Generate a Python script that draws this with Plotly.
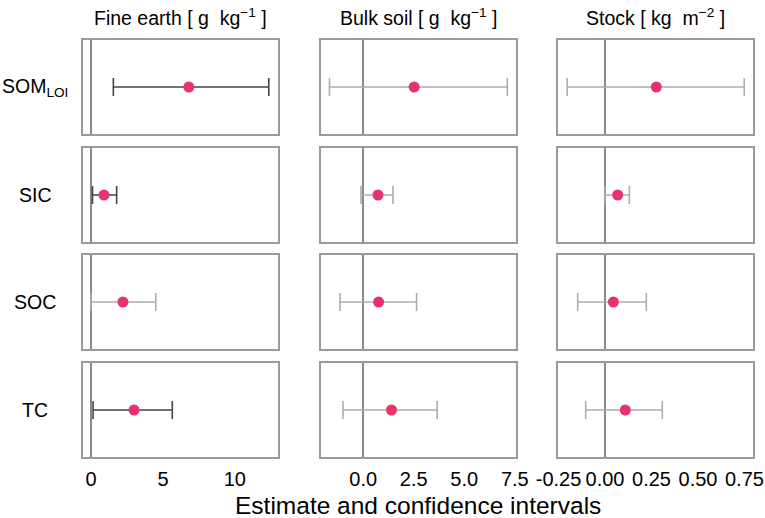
import plotly.graph_objects as go
from plotly.subplots import make_subplots

# --- DATA ---
rows = ["SOM<sub>LOI</sub>", "SIC", "SOC", "TC"]
columns = [
    "Fine earth [ g  kg<sup>\u22121</sup> ]",
    "Bulk soil [ g  kg<sup>\u22121</sup> ]",
    "Stock [ kg  m<sup>\u22122</sup> ]",
]

# estimates and confidence bounds per column, one value per row
fine_est = [6.8, 0.9, 2.22, 2.99]
fine_lo = [1.55, 0.1, -0.02, 0.14]
fine_hi = [12.36, 1.78, 4.5, 5.65]

bulk_est = [2.52, 0.73, 0.76, 1.4]
bulk_lo = [-1.67, -0.11, -1.15, -1.0]
bulk_hi = [7.13, 1.47, 2.64, 3.66]

stock_est = [0.276, 0.068, 0.045, 0.109]
stock_lo = [-0.204, -0.002, -0.147, -0.104]
stock_hi = [0.749, 0.131, 0.222, 0.308]

# tick labels per column
fine_ticks = [0, 5, 10]
fine_ticktext = ["0", "5", "10"]
bulk_ticks = [0, 2.5, 5, 7.5]
bulk_ticktext = ["0.0", "2.5", "5.0", "7.5"]
stock_ticks = [-0.25, 0, 0.25, 0.5, 0.75]
stock_ticktext = ["-0.25", "0.00", "0.25", "0.50", "0.75"]

x_ranges = [[-0.56, 13.0], [-2.09, 7.56], [-0.253, 0.796]]

# --- STYLE ---
W, H = 765, 518
FONT = "Arial, Liberation Sans, sans-serif"
POINT = "#E8336A"
DARK = "#444444"
LIGHT = "#ADADAD"
BORDER = "#9A9A9A"
ZERO = "#8A8A8A"

col_px = [(83, 278), (321, 516), (558, 753)]
row_px = [(40, 134), (148, 242), (255, 349), (363, 457)]


def main():
    est = [fine_est, bulk_est, stock_est]
    lo = [fine_lo, bulk_lo, stock_lo]
    hi = [fine_hi, bulk_hi, stock_hi]
    ticks = [(fine_ticks, fine_ticktext), (bulk_ticks, bulk_ticktext),
             (stock_ticks, stock_ticktext)]

    fig = make_subplots(rows=4, cols=3)

    for c in range(3):
        for r in range(4):
            e, l, h = est[c][r], lo[c][r], hi[c][r]
            # CI that stays clear of zero is drawn dark
            bar_col = DARK if l > 0 else LIGHT
            fig.add_trace(go.Scatter(
                x=[e], y=[0], mode="markers",
                marker=dict(size=11, color=POINT),
                error_x=dict(type="data", symmetric=False,
                             array=[h - e], arrayminus=[e - l],
                             color=bar_col, thickness=1.6, width=9),
                showlegend=False, hoverinfo="x",
            ), row=r + 1, col=c + 1)

            idx = r * 3 + c + 1
            xname = "xaxis" if idx == 1 else f"xaxis{idx}"
            yname = "yaxis" if idx == 1 else f"yaxis{idx}"
            x0, x1 = col_px[c]
            y0, y1 = row_px[r]
            tv, tt = ticks[c]
            fig.layout[xname].update(
                domain=[x0 / W, x1 / W], range=x_ranges[c],
                tickvals=tv, ticktext=tt, showticklabels=(r == 3),
                ticks="outside" if r == 3 else "", ticklen=3,
                tickcolor="rgba(0,0,0,0)", automargin=False,
                tickfont=dict(family=FONT, size=20, color="#000000"),
                showgrid=False, zeroline=True, zerolinecolor=ZERO,
                zerolinewidth=1.6, showline=True, mirror=True,
                linecolor=BORDER, linewidth=1.6, fixedrange=True,
            )
            fig.layout[yname].update(
                domain=[1 - y1 / H, 1 - y0 / H], range=[-1, 1],
                showticklabels=False, showgrid=False, zeroline=False,
                showline=True, mirror=True, linecolor=BORDER,
                linewidth=1.6, ticks="", fixedrange=True, automargin=False,
            )

    annotations = []
    for c, title in enumerate(columns):
        x0, x1 = col_px[c]
        annotations.append(dict(
            text=title, x=(x0 + x1) / 2 / W, y=1 - 17 / H,
            xref="paper", yref="paper", showarrow=False,
            xanchor="center", yanchor="middle",
            font=dict(family=FONT, size=19.5, color="#000000"),
        ))
    for r, label in enumerate(rows):
        y0, y1 = row_px[r]
        annotations.append(dict(
            text=label, x=35 / W, y=1 - (y0 + y1) / 2 / H,
            xref="paper", yref="paper", showarrow=False,
            xanchor="center", yanchor="middle",
            font=dict(family=FONT, size=19.5, color="#000000"),
        ))
    annotations.append(dict(
        text="Estimate and confidence intervals",
        x=(83 + 753) / 2 / W, y=1 - 505 / H,
        xref="paper", yref="paper", showarrow=False,
        xanchor="center", yanchor="middle",
        font=dict(family=FONT, size=24.5, color="#000000"),
    ))

    fig.update_layout(
        width=W, height=H,
        margin=dict(l=0, r=0, t=0, b=0, autoexpand=False),
        paper_bgcolor="white", plot_bgcolor="white",
        annotations=annotations,
    )

    fig.write_html("out.html", config={"displayModeBar": False})

    # drop the browser's default page margin so the figure sits at 0,0
    with open("out.html", encoding="utf-8") as f:
        page = f.read()
    page = page.replace("<head>", "<head><style>html,body{margin:0;padding:0;overflow:hidden;}</style>", 1)
    with open("out.html", "w", encoding="utf-8") as f:
        f.write(page)


if __name__ == "__main__":
    main()
